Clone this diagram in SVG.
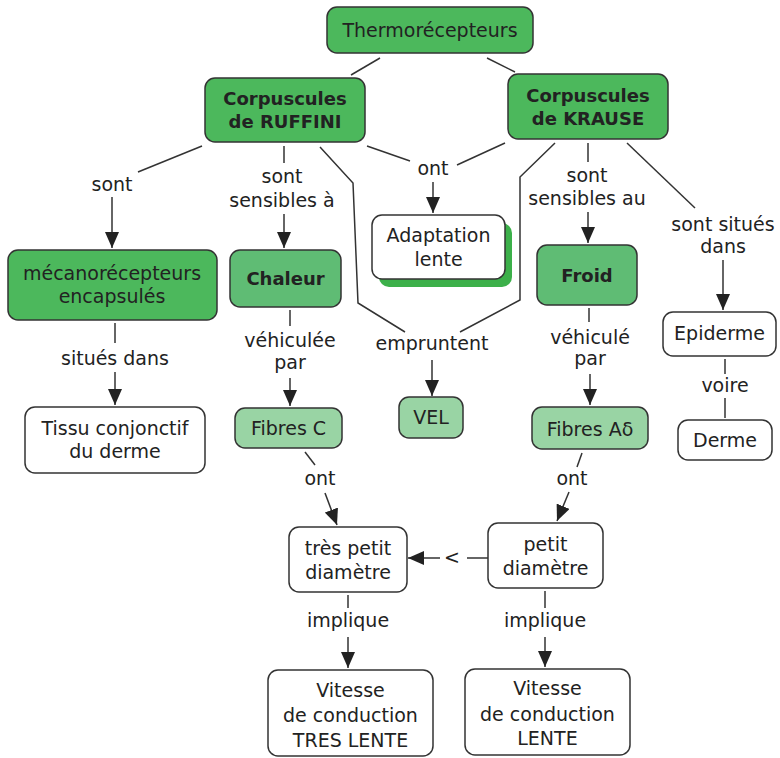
<svg xmlns="http://www.w3.org/2000/svg" width="780" height="758" viewBox="0 0 780 758">
  <defs>
    <marker id="arrow" markerUnits="userSpaceOnUse" markerWidth="16" markerHeight="14" refX="16" refY="7" orient="auto">
      <path d="M0,0 L16,7 L0,14 z" fill="#222"/>
    </marker>
    <style>
      text { font-family: "DejaVu Sans", Verdana, sans-serif; font-size: 19px; fill: #222; text-anchor: middle; }
      .b { font-weight: bold; font-size: 18px; }
      .box { stroke: #333; stroke-width: 1.5; }
      .dark { fill: #4cb85c; }
      .mid { fill: #5fbc74; }
      .light { fill: #99d4a4; }
      .white { fill: #fff; }
      .shadow { fill: #3cb04a; }
      #connectors line, #connectors polyline { stroke: #333; stroke-width: 1.5; fill: none; }
      #connectors .arr { marker-end: url(#arrow); }
    </style>
  </defs>
  <rect width="780" height="758" fill="#fff"/>

  <!-- connectors and their labels -->
  <g id="connectors">
    <line x1="380" y1="58" x2="351" y2="75"/>
    <line x1="487" y1="58" x2="515" y2="72"/>

    <line x1="202" y1="146" x2="138" y2="172"/>
    <text x="112" y="191">sont</text>
    <line class="arr" x1="112" y1="197" x2="112" y2="248"/>

    <line x1="284" y1="146" x2="284" y2="163"/>
    <text x="282" y="183">sont</text>
    <text x="282" y="207">sensibles à</text>
    <line class="arr" x1="284" y1="214" x2="284" y2="248"/>

    <line x1="367" y1="146" x2="410" y2="161"/>
    <line x1="505" y1="143" x2="457" y2="165"/>
    <text x="433" y="175">ont</text>
    <line class="arr" x1="433" y1="182" x2="433" y2="213"/>

    <polyline points="320,147 353,183 358,303 405,332"/>
    <polyline points="555,143 520,177 520,300 460,332"/>
    <text x="432" y="350">empruntent</text>
    <line class="arr" x1="432" y1="360" x2="432" y2="396"/>

    <line x1="588" y1="143" x2="588" y2="162"/>
    <text x="587" y="182">sont</text>
    <text x="587" y="205">sensibles au</text>
    <line class="arr" x1="588" y1="212" x2="588" y2="243"/>

    <line x1="627" y1="143" x2="695" y2="208"/>
    <text x="723" y="231">sont situés</text>
    <text x="723" y="253">dans</text>
    <line class="arr" x1="723" y1="260" x2="723" y2="310"/>

    <line x1="115" y1="323" x2="115" y2="343"/>
    <text x="115" y="365">situés dans</text>
    <line class="arr" x1="115" y1="372" x2="115" y2="405"/>

    <line x1="290" y1="310" x2="290" y2="326"/>
    <text x="290" y="347">véhiculée</text>
    <text x="290" y="369">par</text>
    <line class="arr" x1="290" y1="378" x2="290" y2="406"/>

    <line x1="589" y1="308" x2="589" y2="322"/>
    <text x="590" y="344">véhiculé</text>
    <text x="590" y="365">par</text>
    <line class="arr" x1="590" y1="374" x2="590" y2="405"/>

    <line x1="725" y1="359" x2="725" y2="374"/>
    <text x="725" y="392">voire</text>
    <line x1="725" y1="398" x2="725" y2="418"/>

    <line x1="305" y1="452" x2="315" y2="465"/>
    <text x="320" y="485">ont</text>
    <line class="arr" x1="325" y1="493" x2="337" y2="525"/>

    <line x1="582" y1="453" x2="577" y2="467"/>
    <text x="572" y="485">ont</text>
    <line class="arr" x1="569" y1="492" x2="557" y2="521"/>

    <line x1="488" y1="558" x2="467" y2="558"/>
    <text x="452" y="564">&lt;</text>
    <line class="arr" x1="440" y1="558" x2="408" y2="558"/>

    <line x1="348" y1="595" x2="348" y2="608"/>
    <text x="348" y="627">implique</text>
    <line class="arr" x1="348" y1="637" x2="348" y2="668"/>

    <line x1="545" y1="591" x2="545" y2="608"/>
    <text x="545" y="627">implique</text>
    <line class="arr" x1="545" y1="637" x2="545" y2="667"/>
  </g>

  <!-- concept nodes -->
  <g id="thermorecepteurs">
    <rect class="box dark" x="327" y="7" width="206" height="46" rx="10"/>
    <text x="430" y="37">Thermorécepteurs</text>
  </g>
  <g id="ruffini">
    <rect class="box dark" x="205" y="78" width="160" height="64" rx="10"/>
    <text class="b" x="285" y="105">Corpuscules</text>
    <text class="b" x="285" y="128">de RUFFINI</text>
  </g>
  <g id="krause">
    <rect class="box dark" x="508" y="74" width="160" height="65" rx="10"/>
    <text class="b" x="588" y="102">Corpuscules</text>
    <text class="b" x="588" y="125">de KRAUSE</text>
  </g>
  <g id="mecanorecepteurs">
    <rect class="box dark" x="8" y="250" width="209" height="70" rx="10"/>
    <text x="112" y="280">mécanorécepteurs</text>
    <text x="112" y="303">encapsulés</text>
  </g>
  <g id="chaleur">
    <rect class="box mid" x="230" y="250" width="111" height="57" rx="10"/>
    <text class="b" x="285.5" y="285">Chaleur</text>
  </g>
  <g id="adaptation">
    <rect class="shadow" x="379" y="223" width="133" height="64" rx="10"/>
    <rect class="box white" x="372" y="215" width="133" height="64" rx="10"/>
    <text x="438.5" y="242">Adaptation</text>
    <text x="438.5" y="266">lente</text>
  </g>
  <g id="froid">
    <rect class="box mid" x="537" y="245" width="100" height="60" rx="10"/>
    <text class="b" x="587" y="282">Froid</text>
  </g>
  <g id="epiderme">
    <rect class="box white" x="663" y="312" width="113" height="44" rx="10"/>
    <text x="719.5" y="340">Epiderme</text>
  </g>
  <g id="derme">
    <rect class="box white" x="678" y="420" width="94" height="40" rx="10"/>
    <text x="725" y="447">Derme</text>
  </g>
  <g id="tissu">
    <rect class="box white" x="25" y="407" width="180" height="66" rx="10"/>
    <text x="115" y="435">Tissu conjonctif</text>
    <text x="115" y="458">du derme</text>
  </g>
  <g id="fibres-c">
    <rect class="box light" x="235" y="408" width="107" height="40" rx="10"/>
    <text x="288.5" y="435">Fibres C</text>
  </g>
  <g id="vel">
    <rect class="box light" x="399" y="397" width="64" height="41" rx="10"/>
    <text x="431" y="424">VEL</text>
  </g>
  <g id="fibres-a-delta">
    <rect class="box light" x="532" y="407" width="116" height="42" rx="10"/>
    <text x="590" y="436">Fibres Aδ</text>
  </g>
  <g id="tres-petit-diametre">
    <rect class="box white" x="289" y="527" width="118" height="65" rx="10"/>
    <text x="348" y="555">très petit</text>
    <text x="348" y="579">diamètre</text>
  </g>
  <g id="petit-diametre">
    <rect class="box white" x="488" y="523" width="115" height="65" rx="10"/>
    <text x="545.5" y="551">petit</text>
    <text x="545.5" y="575">diamètre</text>
  </g>
  <g id="vitesse-tres-lente">
    <rect class="box white" x="268" y="670" width="165" height="86" rx="10"/>
    <text x="350.5" y="697">Vitesse</text>
    <text x="350.5" y="722">de conduction</text>
    <text x="350.5" y="747">TRES LENTE</text>
  </g>
  <g id="vitesse-lente">
    <rect class="box white" x="465" y="669" width="165" height="86" rx="10"/>
    <text x="547.5" y="695">Vitesse</text>
    <text x="547.5" y="721">de conduction</text>
    <text x="547.5" y="745">LENTE</text>
  </g>
</svg>
